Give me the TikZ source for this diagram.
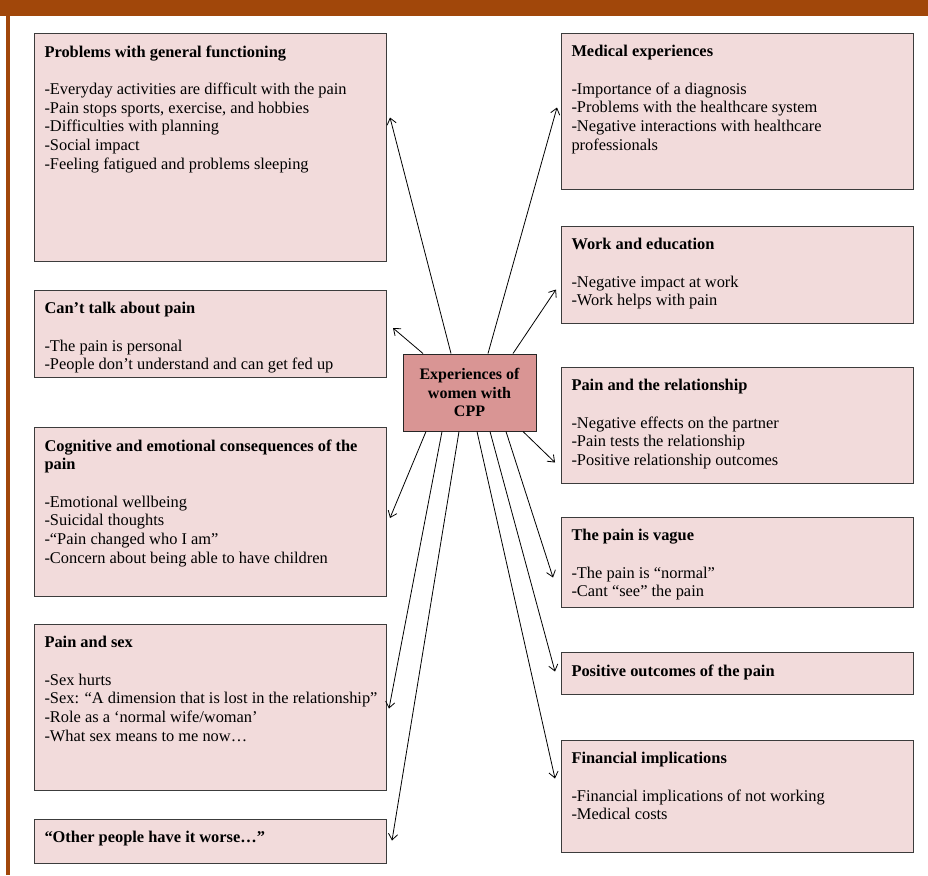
\documentclass[tikz,border=0pt]{standalone}
\usepackage{fontspec}
\setmainfont{Liberation Serif}
\usetikzlibrary{arrows.meta, positioning, calc}

\definecolor{barbrown}{RGB}{161,71,10}
\definecolor{boxfill}{RGB}{242,219,219}
\definecolor{corefill}{RGB}{217,149,148}
\definecolor{boxline}{RGB}{60,60,60}

% top-aligned text of a theme box: height, then lines
\newcommand{\themetext}[2]{\parbox[c][#1][t]{249pt}{\raggedright #2}}

\begin{document}
\begin{tikzpicture}[
  x=0.75pt, y=-0.75pt,
  font=\fontsize{12.3}{14}\selectfont,
  theme/.style={draw=boxline, fill=boxfill, line width=0.75pt, inner xsep=7.5pt, inner ysep=9pt},
  core/.style={draw=black!85, fill=corefill, line width=0.75pt, align=center, font=\fontsize{12}{14}\selectfont\bfseries,
    minimum width=99.75pt, minimum height=57.75pt, inner sep=2pt},
  arr/.style={-{Straight Barb[length=4.5pt, width=7pt]}, line width=0.6pt},
]
  \useasboundingbox (0,0) rectangle (928,875);
  \fill[barbrown] (0,0) rectangle (928,16);
  \fill[barbrown] (6,16) rectangle (10,875);

  % left column
  \node[theme, anchor=north west] (gen) at (34,33) {\themetext{153pt}{\textbf{Problems with general functioning}\\[\baselineskip]
    -Everyday activities are difficult with the pain\\
    -Pain stops sports, exercise, and hobbies\\
    -Difficulties with planning\\
    -Social impact\\
    -Feeling fatigued and problems sleeping}};
  \node[theme, below=21pt of gen] (talk) {\themetext{47.25pt}{\textbf{Can’t talk about pain}\\[\baselineskip]
    -The pain is personal\\
    -People don’t understand and can get fed up}};
  \node[theme, below=36.75pt of talk] (cog) {\themetext{108.75pt}{\textbf{Cognitive and emotional consequences of the}\\
    \textbf{pain}\\[\baselineskip]
    -Emotional wellbeing\\
    -Suicidal thoughts\\
    -“Pain changed who I am”\\
    -Concern about being able to have children}};
  \node[theme, below=20.25pt of cog] (sex) {\themetext{106.5pt}{\textbf{Pain and sex}\\[\baselineskip]
    -Sex hurts\\
    \mbox{-Sex: “A dimension that is lost in the relationship”}\\
    -Role as a ‘normal wife/woman’\\
    -What sex means to me now…}};
  \node[theme, below=21pt of sex] (other) {\themetext{15pt}{\textbf{“Other people have it worse…”}}};

  % right column
  \node[theme, anchor=north west] (med) at (561,33) {\themetext{99pt}{\textbf{Medical experiences}\\[\baselineskip]
    -Importance of a diagnosis\\
    -Problems with the healthcare system\\
    -Negative interactions with healthcare\\
    professionals}};
  \node[theme, below=27pt of med] (work) {\themetext{54.75pt}{\textbf{Work and education}\\[\baselineskip]
    -Negative impact at work\\
    -Work helps with pain}};
  \node[theme, below=32.25pt of work] (rel) {\themetext{69pt}{\textbf{Pain and the relationship}\\[\baselineskip]
    -Negative effects on the partner\\
    -Pain tests the relationship\\
    -Positive relationship outcomes}};
  \node[theme, below=24.75pt of rel] (vague) {\themetext{49.5pt}{\textbf{The pain is vague}\\[\baselineskip]
    -The pain is “normal”\\
    -Cant “see” the pain}};
  \node[theme, below=33pt of vague] (pos) {\themetext{13.5pt}{\textbf{Positive outcomes of the pain}}};
  \node[theme, below=33.75pt of pos] (fin) {\themetext{66pt}{\textbf{Financial implications}\\[\baselineskip]
    -Financial implications of not working\\
    -Medical costs}};

  % centre
  \node[core] (ctr) at (469.5,392.5) {Experiences of\\women with\\CPP};

  \draw[arr] ($(ctr.north)+(-18.5,0)$) -- ($(gen.east)+(3,-30)$);
  \draw[arr] ($(ctr.north)+(-46.5,0)$) -- ($(talk.east)+(6,-6)$);
  \draw[arr] ($(ctr.north)+(18.5,0)$) -- ($(med.west)+(-4,-4)$);
  \draw[arr] ($(ctr.north)+(43.5,0)$) -- ($(work.west)+(-5,14.5)$);
  \draw[arr] ($(ctr.south)+(53.5,0)$) -- ($(rel.west)+(-6,37)$);
  \draw[arr] ($(ctr.south)+(-43.5,0)$) -- ($(cog.east)+(3,6)$);
  \draw[arr] ($(ctr.south)+(-27.5,0)$) -- ($(sex.east)+(2,1)$);
  \draw[arr] ($(ctr.south)+(-10.5,0)$) -- ($(other.east)+(5,-1)$);
  \draw[arr] ($(ctr.south)+(7.5,0)$) -- ($(fin.west)+(-6,-18)$);
  \draw[arr] ($(ctr.south)+(20.5,0)$) -- ($(pos.west)+(-6,-2)$);
  \draw[arr] ($(ctr.south)+(36.5,0)$) -- ($(vague.west)+(-8,15)$);
\end{tikzpicture}
\end{document}
